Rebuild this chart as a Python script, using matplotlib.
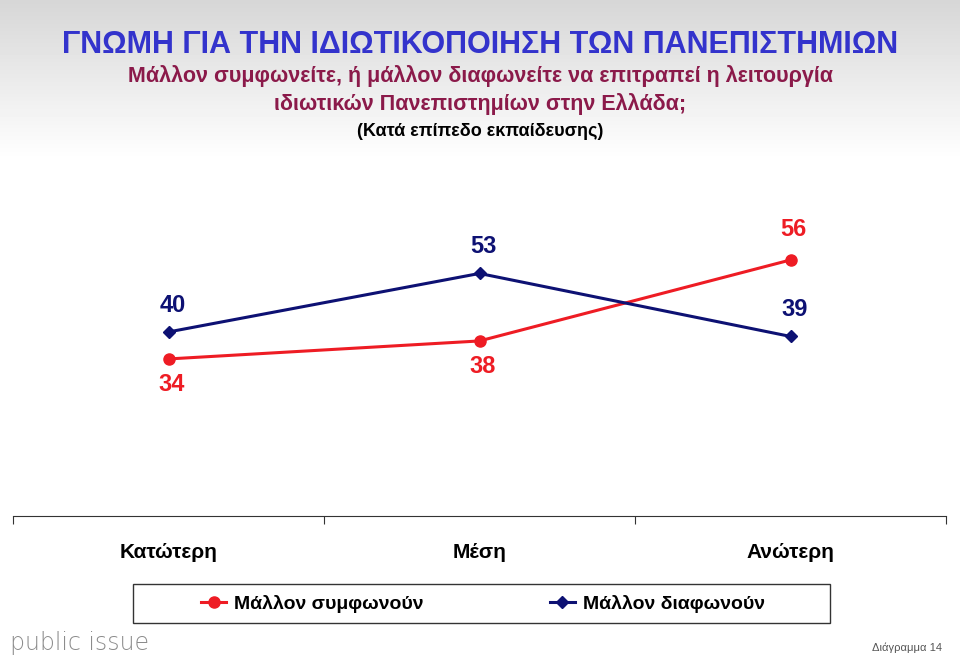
import numpy as np
import matplotlib
matplotlib.use('Agg')
import matplotlib.pyplot as plt
from matplotlib.patches import Rectangle

plt.rcParams['font.family'] = ['Liberation Sans', 'DejaVu Sans']

categories = ['Κατώτερη', 'Μέση', 'Ανώτερη']
agree = [34, 38, 56]      # Μάλλον συμφωνούν
disagree = [40, 53, 39]   # Μάλλον διαφωνούν
series_names = ['Μάλλον συμφωνούν', 'Μάλλον διαφωνούν']

RED = '#ee1c24'
NAVY = '#0d1173'

fig = plt.figure(figsize=(9.6, 6.58), dpi=100)

# grey-to-white gradient at the top of the slide
bg = fig.add_axes([0, 0, 1, 1], zorder=-10)
grad = np.ones((658, 1))
grad[:160, 0] = np.linspace(0.84, 1.0, 160)
bg.imshow(grad, cmap='gray', vmin=0, vmax=1, aspect='auto', extent=[0, 1, 0, 1])
bg.set_axis_off()

fig.text(0.5, 1 - 45 / 658, 'ΓΝΩΜΗ ΓΙΑ ΤΗΝ ΙΔΙΩΤΙΚΟΠΟΙΗΣΗ ΤΩΝ ΠΑΝΕΠΙΣΤΗΜΙΩΝ',
         ha='center', va='center', fontsize=22, fontweight='bold', color='#3333cc')
fig.text(0.5, 1 - 76 / 658, 'Μάλλον συμφωνείτε, ή μάλλον διαφωνείτε να επιτραπεί η λειτουργία',
         ha='center', va='center', fontsize=15.5, fontweight='bold', color='#8b1a4a')
fig.text(0.5, 1 - 104 / 658, 'ιδιωτικών Πανεπιστημίων στην Ελλάδα;',
         ha='center', va='center', fontsize=15.5, fontweight='bold', color='#8b1a4a')
fig.text(0.5, 1 - 132 / 658, '(Κατά επίπεδο εκπαίδευσης)',
         ha='center', va='center', fontsize=13, fontweight='bold', color='black')

ax = fig.add_axes([13 / 960, 1 - 516 / 658, 933 / 960, 270 / 658])
ax.patch.set_alpha(0)
x = np.arange(len(categories))
ax.plot(x, agree, color=RED, lw=2.2, marker='o', ms=8, label=series_names[0])
ax.plot(x, disagree, color=NAVY, lw=2.2, marker='D', ms=6.5, label=series_names[1])
ax.set_xlim(-0.5, 2.5)
ax.set_ylim(-0.9, 59.1)

# value labels
lab_style = dict(ha='center', fontsize=17, fontweight='bold')
for i, (a, d) in enumerate(zip(agree, disagree)):
    a_above = a > d
    ax.annotate(str(a), (i, a), xytext=(2, 14 if a_above else -10),
                textcoords='offset points', va='bottom' if a_above else 'top',
                color=RED, **lab_style)
    ax.annotate(str(d), (i, d), xytext=(3, 11),
                textcoords='offset points', va='bottom', color=NAVY, **lab_style)

for s in ['top', 'right', 'left']:
    ax.spines[s].set_visible(False)
ax.spines['bottom'].set_color('#333333')
ax.set_yticks([])
ax.set_xticks([-0.5, 0.5, 1.5, 2.5])
ax.set_xticklabels([])
ax.tick_params(axis='x', direction='out', length=6, color='#333333')
for i, c in enumerate(categories):
    ax.text(i, -0.135, c, transform=ax.get_xaxis_transform(), ha='center',
            va='center', fontsize=15, fontweight='bold')

# legend box
fig.add_artist(Rectangle((133 / 960, 1 - 623 / 658), 697 / 960, 39 / 658,
                         transform=fig.transFigure, fill=False, lw=1, ec='#333333'))
fig.legend(loc='center', bbox_to_anchor=(0.503, 1 - 604 / 658), ncol=2, frameon=False,
           prop={'size': 14, 'weight': 'bold'}, handlelength=1.3, handletextpad=0.4,
           columnspacing=6.5)

fig.text(10 / 960, 1 - 643 / 658, 'public issue', ha='left', va='center',
         fontsize=17, color='#8c8c8c', family=['DejaVu Sans'], fontweight='light')
fig.text(942 / 960, 1 - 648 / 658, 'Διάγραμμα 14', ha='right', va='center',
         fontsize=8, color='#555555')

fig.savefig('out.png', dpi=100)
